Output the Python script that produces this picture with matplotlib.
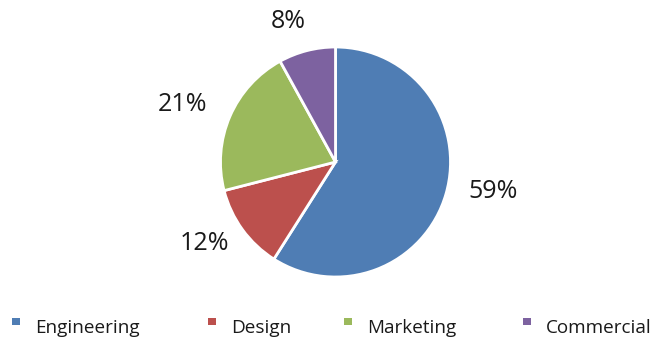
import matplotlib
matplotlib.use("Agg")
import matplotlib.pyplot as plt
from matplotlib.patches import Rectangle
import numpy as np

categories = ["Engineering", "Design", "Marketing", "Commercial"]
values = [59, 12, 21, 8]
colors = ["#4F7DB4", "#BC504D", "#9BB95C", "#7D62A0"]

plt.rcParams['font.family'] = ['Open Sans', 'DejaVu Sans']

W, H = 655, 337
fig = plt.figure(figsize=(W / 100, H / 100), dpi=100)
fig.patch.set_facecolor("white")

cx, cy, r = 335.5, 162, 115
ax = fig.add_axes([(cx - r) / W, (H - cy - r) / H, 2 * r / W, 2 * r / H])
wedges, _ = ax.pie(values, colors=colors, startangle=90, counterclock=False,
                   wedgeprops=dict(edgecolor="white", linewidth=2))
ax.set_xlim(-1, 1)
ax.set_ylim(-1, 1)
ax.set_aspect("equal")
ax.axis("off")

# label placement (distance in radii, angle in degrees)
label_layout = [(1.39, -10.7), (1.34, -148.0), (1.42, 159.5), (1.29, 108.7)]
for v, (d, a) in zip(values, label_layout):
    t = np.deg2rad(a)
    ax.text(d * np.cos(t), d * np.sin(t), f"{v}%", ha="center", va="center",
            fontsize=18, color="#1a1a1a")

# legend
legend_x = [16, 212, 348, 527]
for name, c, x in zip(categories, colors, legend_x):
    fig.add_artist(Rectangle(((x - 4) / W, (H - 325) / H), 8 / W, 7 / H,
                             transform=fig.transFigure, facecolor=c, edgecolor="none"))
    fig.text((x + 19) / W, (H - 328) / H, name, ha="left", va="center",
             fontsize=13.6, color="#1a1a1a")

fig.savefig("out.png", dpi=100)
